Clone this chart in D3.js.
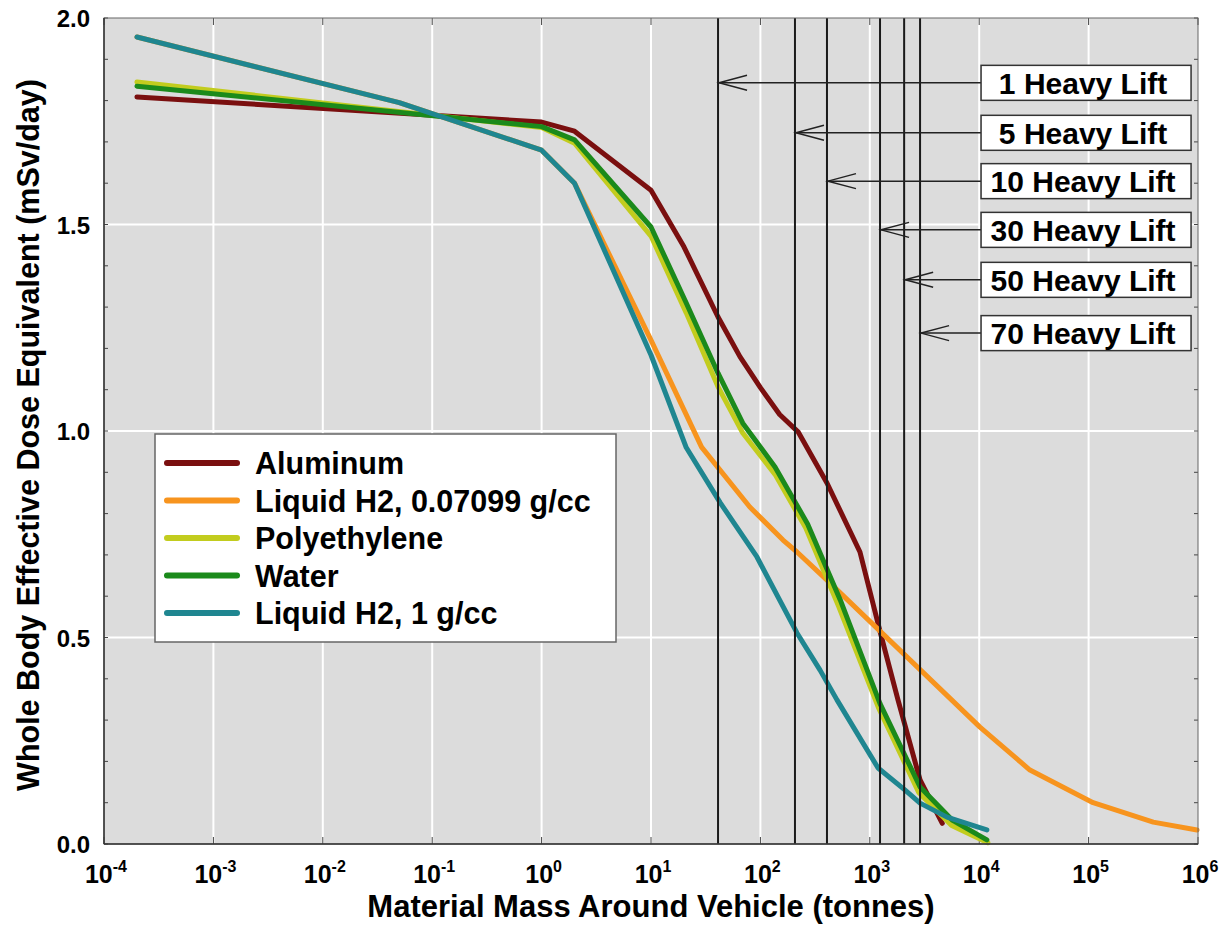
<!doctype html>
<html>
<head>
<meta charset="utf-8">
<script src="https://cdn.jsdelivr.net/npm/d3@7"></script>
<style>
  body { margin: 0; background: #fff; }
  svg { display: block; font-family: "Liberation Sans", Arial, sans-serif; font-weight: bold; }
</style>
</head>
<body>
<script>
// Values: mass around vehicle (tonnes) -> dose (mSv/day)
const aluminumMass = [2e-4, 1, 2, 10, 20, 41, 65, 100, 150, 221, 406, 813, 1240, 1810, 2880, 4600];
const aluminumDose = [1.809, 1.748, 1.726, 1.583, 1.446, 1.276, 1.18, 1.105, 1.04, 0.998, 0.874, 0.707, 0.515, 0.349, 0.155, 0.05];

const lh2LowMass = [2e-4, 0.05, 1, 2, 10, 29, 80, 161, 216, 406, 10160, 29100, 110000, 390000, 980000];
const lh2LowDose = [1.954, 1.795, 1.68, 1.60, 1.22, 0.961, 0.816, 0.736, 0.707, 0.639, 0.283, 0.179, 0.10, 0.053, 0.034];

const polyMass = [2e-4, 1, 2, 10, 21, 41, 69, 136, 260, 520, 1200, 2800, 5600, 12000];
const polyDose = [1.845, 1.735, 1.697, 1.472, 1.286, 1.107, 0.995, 0.895, 0.765, 0.575, 0.33, 0.125, 0.045, 0.003];

const waterMass = [2e-4, 1, 2, 10, 21, 41, 69, 136, 270, 537, 1240, 2880, 5660, 11750];
const waterDose = [1.835, 1.737, 1.705, 1.494, 1.31, 1.14, 1.019, 0.913, 0.775, 0.591, 0.34, 0.138, 0.058, 0.01];

const lh2HighMass = [2e-4, 0.05, 1, 2, 10, 21, 43, 93, 216, 351, 501, 1190, 2090, 2880, 5080, 11750];
const lh2HighDose = [1.954, 1.795, 1.68, 1.60, 1.184, 0.96, 0.826, 0.695, 0.511, 0.421, 0.349, 0.184, 0.131, 0.099, 0.065, 0.034];

const seriesNames = ["Aluminum", "Liquid H2, 0.07099 g/cc", "Polyethylene", "Water", "Liquid H2, 1 g/cc"];
const seriesColors = ["#7a0f0f", "#f7941e", "#c2cc1e", "#1b8a1b", "#1f8690"];

// Heavy-lift annotations
const liftLabels = ["1 Heavy Lift", "5 Heavy Lift", "10 Heavy Lift", "30 Heavy Lift", "50 Heavy Lift", "70 Heavy Lift"];
const liftMass = [41, 207, 406, 1240, 2060, 2880];
const liftArrowDose = [1.843, 1.722, 1.605, 1.487, 1.366, 1.237];
const liftBoxMass = 10400;

const series = [
  {mass: aluminumMass, dose: aluminumDose},
  {mass: lh2LowMass, dose: lh2LowDose},
  {mass: polyMass, dose: polyDose},
  {mass: waterMass, dose: waterDose},
  {mass: lh2HighMass, dose: lh2HighDose}
].map((s, i) => ({name: seriesNames[i], color: seriesColors[i], points: s.mass.map((m, j) => [m, s.dose[j]])}));

// Dimensions
const width = 1225;
const height = 936;
const marginLeft = 104;
const marginRight = 27;
const marginTop = 18;
const marginBottom = 92;

const x = d3.scaleLog([1e-4, 1e6], [marginLeft, width - marginRight]);
const y = d3.scaleLinear([0, 2], [height - marginBottom, marginTop]);

const svg = d3.select("body").append("svg")
    .attr("width", width)
    .attr("height", height)
    .attr("viewBox", [0, 0, width, height]);

// Plot background
svg.append("rect")
    .attr("x", marginLeft)
    .attr("y", marginTop)
    .attr("width", width - marginLeft - marginRight)
    .attr("height", height - marginTop - marginBottom)
    .attr("fill", "#dcdcdc");

const decades = d3.range(-4, 7).map((e) => Math.pow(10, e));
const yMajor = [0, 0.5, 1, 1.5, 2];
const yMinor = d3.range(0, 2.01, 0.1);
const xMinor = x.ticks().filter((t) => !decades.some((d) => Math.abs(d - t) / d < 1e-9));

// White grid
svg.append("g")
    .attr("stroke", "#fff")
    .attr("stroke-width", 2)
  .call((g) => g.selectAll("line.v")
    .data(decades.slice(1, -1))
    .join("line")
      .attr("x1", (d) => x(d)).attr("x2", (d) => x(d))
      .attr("y1", marginTop).attr("y2", height - marginBottom))
  .call((g) => g.selectAll("line.h")
    .data(yMajor.slice(1, -1))
    .join("line")
      .attr("x1", marginLeft).attr("x2", width - marginRight)
      .attr("y1", (d) => y(d)).attr("y2", (d) => y(d)));

// Inward ticks on all four sides
const ticks = svg.append("g").attr("stroke", "#444").attr("stroke-width", 1);
for (const [y0, dir] of [[height - marginBottom, -1], [marginTop, 1]]) {
  ticks.append("g").selectAll("line").data(xMinor).join("line")
      .attr("x1", (d) => x(d)).attr("x2", (d) => x(d))
      .attr("y1", y0).attr("y2", y0 + dir * 4);
  ticks.append("g").selectAll("line").data(decades).join("line")
      .attr("x1", (d) => x(d)).attr("x2", (d) => x(d))
      .attr("y1", y0).attr("y2", y0 + dir * 7);
}
for (const [x0, dir] of [[marginLeft, 1], [width - marginRight, -1]]) {
  ticks.append("g").selectAll("line").data(yMinor).join("line")
      .attr("x1", x0).attr("x2", x0 + dir * 4)
      .attr("y1", (d) => y(d)).attr("y2", (d) => y(d));
}

// Data lines
const line = d3.line()
    .x((d) => x(d[0]))
    .y((d) => y(d[1]));

svg.append("g")
    .attr("fill", "none")
    .attr("stroke-width", 5)
    .attr("stroke-linejoin", "round")
    .attr("stroke-linecap", "round")
  .selectAll("path")
  .data(series)
  .join("path")
    .attr("stroke", (d) => d.color)
    .attr("d", (d) => line(d.points));

// Heavy-lift vertical lines
svg.append("g")
    .attr("stroke", "#1a1a1a")
    .attr("stroke-width", 2)
  .selectAll("line")
  .data(liftMass)
  .join("line")
    .attr("x1", (d) => x(d)).attr("x2", (d) => x(d))
    .attr("y1", marginTop).attr("y2", height - marginBottom);

// Arrows and labels
const boxW = 210;
const boxH = 35;
const lift = svg.append("g")
  .selectAll("g")
  .data(liftLabels.map((label, i) => ({label, mass: liftMass[i], dose: liftArrowDose[i]})))
  .join("g");

lift.append("line")
    .attr("stroke", "#222")
    .attr("stroke-width", 1.5)
    .attr("x1", x(liftBoxMass))
    .attr("x2", (d) => x(d.mass) + 1)
    .attr("y1", (d) => y(d.dose))
    .attr("y2", (d) => y(d.dose));

lift.append("path")
    .attr("fill", "none")
    .attr("stroke", "#222")
    .attr("stroke-width", 1.5)
    .attr("d", (d) => {
      const tx = x(d.mass) + 1, ty = y(d.dose);
      return `M${tx + 28},${ty - 7.5}L${tx},${ty}L${tx + 28},${ty + 7.5}`;
    });

lift.append("rect")
    .attr("x", x(liftBoxMass))
    .attr("y", (d) => y(d.dose) - boxH / 2)
    .attr("width", boxW)
    .attr("height", boxH)
    .attr("fill", "#fff")
    .attr("stroke", "#333")
    .attr("stroke-width", 1.5);

lift.append("text")
    .attr("x", x(liftBoxMass) + boxW / 2 - 3)
    .attr("y", (d) => y(d.dose) + 11)
    .attr("text-anchor", "middle")
    .attr("font-size", 30)
    .attr("fill", "#000")
    .text((d) => d.label);

// Frame
svg.append("rect")
    .attr("x", marginLeft)
    .attr("y", marginTop)
    .attr("width", width - marginLeft - marginRight)
    .attr("height", height - marginTop - marginBottom)
    .attr("fill", "none")
    .attr("stroke", "#666")
    .attr("stroke-width", 1);
svg.append("line")
    .attr("x1", marginLeft).attr("x2", width - marginRight)
    .attr("y1", height - marginBottom).attr("y2", height - marginBottom)
    .attr("stroke", "#333").attr("stroke-width", 1.5);
svg.append("line")
    .attr("x1", marginLeft).attr("x2", marginLeft)
    .attr("y1", marginTop).attr("y2", height - marginBottom)
    .attr("stroke", "#333").attr("stroke-width", 1.5);

// Tick labels
svg.append("g")
    .attr("font-size", 24)
    .attr("text-anchor", "end")
  .selectAll("text")
  .data(yMajor)
  .join("text")
    .attr("x", 90)
    .attr("y", (d) => y(d) + 9)
    .text((d) => d.toFixed(1));

const xl = svg.append("g")
    .attr("font-size", 25)
    .attr("text-anchor", "middle")
  .selectAll("text")
  .data(decades)
  .join("text")
    .attr("x", (d) => x(d) + 2)
    .attr("y", 883);
xl.append("tspan").text("10");
xl.append("tspan")
    .attr("font-size", 16)
    .attr("dy", -11)
    .text((d) => String(Math.round(Math.log10(d))));

// Axis titles
svg.append("text")
    .attr("x", (marginLeft + width - marginRight) / 2)
    .attr("y", 917)
    .attr("text-anchor", "middle")
    .attr("font-size", 31)
    .text("Material Mass Around Vehicle (tonnes)");

svg.append("text")
    .attr("transform", `translate(39,${(marginTop + height - marginBottom) / 2 + 4}) rotate(-90)`)
    .attr("text-anchor", "middle")
    .attr("font-size", 30.5)
    .text("Whole Body Effective Dose Equivalent (mSv/day)");

// Legend
const legend = svg.append("g").attr("transform", "translate(155,434)");
legend.append("rect")
    .attr("width", 461)
    .attr("height", 208)
    .attr("fill", "#fff")
    .attr("stroke", "#666")
    .attr("stroke-width", 1.5);
const item = legend.selectAll("g")
  .data(series)
  .join("g")
    .attr("transform", (d, i) => `translate(0,${29 + i * 37.5})`);
item.append("line")
    .attr("x1", 12).attr("x2", 82)
    .attr("stroke", (d) => d.color)
    .attr("stroke-width", 6)
    .attr("stroke-linecap", "round");
item.append("text")
    .attr("x", 100)
    .attr("y", 11)
    .attr("font-size", 30.5)
    .text((d) => d.name);
</script>
</body>
</html>
